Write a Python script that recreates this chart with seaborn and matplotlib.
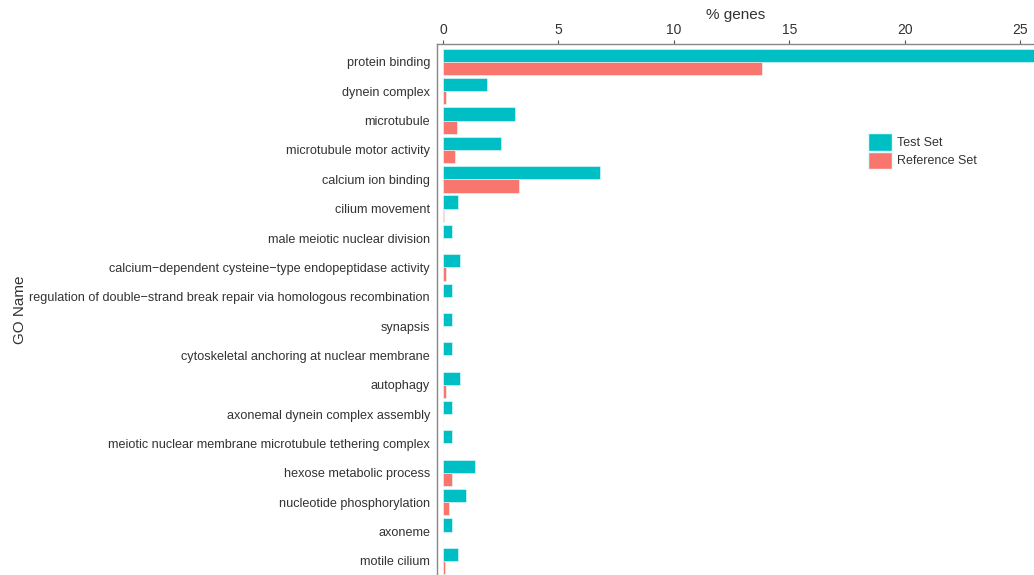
import matplotlib
matplotlib.use("Agg")
import matplotlib.pyplot as plt
import seaborn as sns
import pandas as pd
from matplotlib.patches import Patch

# GO terms, top to bottom
go_names = [
    "protein binding",
    "dynein complex",
    "microtubule",
    "microtubule motor activity",
    "calcium ion binding",
    "cilium movement",
    "male meiotic nuclear division",
    "calcium\u2212dependent cysteine\u2212type endopeptidase activity",
    "regulation of double\u2212strand break repair via homologous recombination",
    "synapsis",
    "cytoskeletal anchoring at nuclear membrane",
    "autophagy",
    "axonemal dynein complex assembly",
    "meiotic nuclear membrane microtubule tethering complex",
    "hexose metabolic process",
    "nucleotide phosphorylation",
    "axoneme",
    "motile cilium",
]

# % genes annotated with each term
test_set = [27.0, 1.9, 3.1, 2.5, 6.8, 0.65, 0.4, 0.75, 0.4, 0.4,
            0.4, 0.75, 0.4, 0.4, 1.4, 1.0, 0.4, 0.65]
reference_set = [13.8, 0.15, 0.6, 0.5, 3.3, 0.03, 0.02, 0.12, 0.02, 0.02,
                 0.02, 0.15, 0.02, 0.02, 0.4, 0.25, 0.02, 0.1]

set_names = ["Test Set", "Reference Set"]
set_colors = ["#00BFC4", "#F8766D"]

df = pd.DataFrame({
    "GO Name": go_names * 2,
    "% genes": test_set + reference_set,
    "Set": [set_names[0]] * len(go_names) + [set_names[1]] * len(go_names),
})

sns.set_theme(style="white")
plt.rcParams["font.family"] = ["Liberation Sans", "DejaVu Sans"]

fig = plt.figure(figsize=(10.34, 5.75), dpi=100)
ax = fig.add_axes([0.4226, 0.0, 0.5774, 0.9235])

sns.barplot(
    data=df, y="GO Name", x="% genes", hue="Set",
    order=go_names, hue_order=set_names, palette=set_colors,
    orient="h", width=0.9, dodge=True, legend=False, saturation=1,
    edgecolor="#e6fbfb", linewidth=0.4, ax=ax,
)

ax.set_xlim(-0.26, 25.6)
ax.set_ylim(17.48, -0.61)
ax.xaxis.tick_top()
ax.xaxis.set_label_position("top")
ax.set_xticks([0, 5, 10, 15, 20, 25])

text_color = "#333333"
ax.tick_params(axis="both", colors="#555555", labelcolor=text_color,
               length=3, width=0.8, direction="out", pad=2)
ax.tick_params(axis="y", labelsize=9.1)
ax.tick_params(axis="x", labelsize=10)
ax.set_xlabel("% genes", fontsize=11, color=text_color, labelpad=3)
ax.set_ylabel("GO Name", fontsize=11, color=text_color, labelpad=2)

for side in ["right", "bottom"]:
    ax.spines[side].set_visible(False)
for side in ["left", "top"]:
    ax.spines[side].set_color("#888888")
    ax.spines[side].set_linewidth(1.0)

handles = [Patch(facecolor=c, edgecolor="#e6fbfb", label=n) for n, c in zip(set_names, set_colors)]
leg = fig.legend(handles=handles, loc="upper left", bbox_to_anchor=(0.835, 0.777),
                 frameon=False, fontsize=9, handlelength=1.85, handleheight=1.75,
                 handletextpad=0.4, labelspacing=0.1, borderaxespad=0)
for t in leg.get_texts():
    t.set_color(text_color)

fig.savefig("out.png", dpi=100)
